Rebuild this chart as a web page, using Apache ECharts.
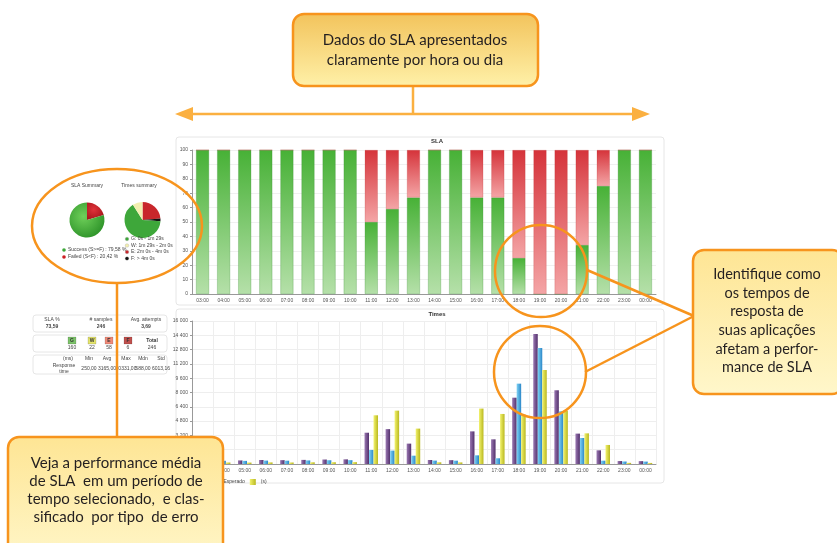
<!DOCTYPE html>
<html>
<head>
<meta charset="utf-8">
<title>SLA</title>
<script src="https://cdn.jsdelivr.net/npm/echarts@6/dist/echarts.min.js"></script>
<style>
  html, body { margin: 0; padding: 0; background: #fff; }
  #chart { width: 837px; height: 543px; }
</style>
</head>
<body>
<div id="chart"></div>
<script>
// data
const hours = ['03:00', '04:00', '05:00', '06:00', '07:00', '08:00', '09:00', '10:00', '11:00', '12:00', '13:00',
  '14:00', '15:00', '16:00', '17:00', '18:00', '19:00', '20:00', '21:00', '22:00', '23:00', '00:00'];
const slaOk = [100, 100, 100, 100, 100, 100, 100, 100, 50, 59, 67, 100, 100, 67, 67, 25, 0, 0, 34, 75, 100, 100];
const slaFail = [0, 0, 0, 0, 0, 0, 0, 0, 50, 41, 33, 0, 0, 33, 33, 75, 100, 100, 66, 25, 0, 0];

const timesNames = ['Mínimo', 'Esperado', '(s)'];
const timesPurple = [380, 420, 400, 450, 430, 460, 500, 520, 3500, 3900, 2280, 450, 430, 3650, 2760, 7420, 14550, 8250, 3400, 1530, 330, 320];
const timesBlue = [330, 360, 350, 380, 370, 400, 420, 430, 1570, 1500, 930, 380, 370, 970, 640, 8990, 12980, 5900, 2910, 370, 280, 270];
const timesYellow = [150, 170, 160, 180, 170, 190, 200, 210, 5450, 5970, 3960, 190, 180, 6200, 5600, 5520, 10520, 5970, 3430, 2130, 130, 120];

const slaSummaryNames = ['Failed (S<F) : 20,42 %', 'Success (S>=F) : 79,58 %'];
const slaSummaryValues = [20.42, 79.58];
const timesSummaryNames = ['E: 2m 0s - 4m 0s', 'F: > 4m 0s', 'G: 0s - 1m 29s', 'W: 1m 29s - 2m 0s'];
const timesSummaryValues = [58, 6, 160, 22];

const statsHeader = ['SLA %', '# samples', 'Avg. attempts'];
const statsValues = ['73,59', '246', '3,69'];
const classLabels = ['G', 'W', 'E', 'F', 'Total'];
const classCounts = ['160', '22', '58', '6', '246'];
const respHeader = ['(ms)', 'Min', 'Avg', 'Max', 'Mdn', 'Std'];
const respValues = ['Response\ntime', '250,00', '3165,00', '30331,00', '588,00', '6013,16'];

const orange = '#f7941d';
const orangeLight = '#fbb040';
const small = 'Liberation Sans';
const grad = (c1, c2, horiz) => new echarts.graphic.LinearGradient(0, 0, horiz ? 1 : 0, horiz ? 0 : 1,
  [{ offset: 0, color: c1 }, { offset: 1, color: c2 }]);
const radial = (c1, c2) => new echarts.graphic.RadialGradient(0.4, 0.4, 0.75,
  [{ offset: 0, color: c1 }, { offset: 1, color: c2 }]);

const slaColors = ['#cc1f24', '#3ea73a'];
const timesPieColors = ['#c8262b', '#111111', '#3ea73a', '#f3efb0'];
const classColors = ['#7cc36a', '#e4e46c', '#f08a78', '#c0504d'];

function box(x, y, w, h, c1, c2) {
  return { type: 'rect', z: 100, shape: { x, y, width: w, height: h, r: 11 },
    style: { fill: grad(c1, c2), stroke: orange, lineWidth: 2.5 } };
}
function label(x, y, text, size, lh) {
  return { type: 'text', z: 101, x, y,
    style: { text, fill: '#231f20', font: size + 'px Lato', textAlign: 'center', textVerticalAlign: 'middle', lineHeight: lh } };
}
function tiny(x, y, text, opts) {
  return Object.assign({ type: 'text', z: 20, x, y,
    style: Object.assign({ text, fill: '#444', font: '5px "' + small + '"', textAlign: 'center', textVerticalAlign: 'middle', lineHeight: 6 }, opts || {}) });
}
function line(x1, y1, x2, y2, color) {
  return { type: 'line', z: 100, shape: { x1, y1, x2, y2 }, style: { stroke: color || orange, lineWidth: 2.5 } };
}
function ring(cx, cy, rx, ry) {
  return { type: 'ellipse', z: 100, shape: { cx, cy, rx, ry }, style: { fill: 'none', stroke: orange, lineWidth: 2.5 } };
}
function panel(x, y, w, h) {
  return { type: 'rect', z: 0, shape: { x, y, width: w, height: h, r: 3 }, style: { fill: 'none', stroke: '#e6e6e6', lineWidth: 1 } };
}

const elements = [
  panel(176, 137, 488, 168), panel(176, 309, 488, 174),
  panel(33, 315, 134, 17), panel(33, 335, 134, 17), panel(33, 355, 134, 19),
  tiny(437, 141, 'SLA', { font: 'bold 6px "' + small + '"', fill: '#333' }),
  tiny(437, 314, 'Times', { font: 'bold 6px "' + small + '"', fill: '#333' }),
  tiny(87, 186, 'SLA Summary'), tiny(139, 186, 'Times summary')
];

// pie legends
slaSummaryNames.forEach((n, i) => {
  const y = 250 + i * 7;
  elements.push({ type: 'circle', z: 20, shape: { cx: 64, cy: y, r: 1.8 }, style: { fill: slaColors[1 - i] } });
  elements.push(tiny(68, y, slaSummaryNames[1 - i], { textAlign: 'left' }));
});
[2, 3, 0, 1].forEach((k, i) => {
  const y = 239 + i * 6.5;
  elements.push({ type: 'circle', z: 20, shape: { cx: 127, cy: y, r: 1.8 }, style: { fill: timesPieColors[k], stroke: '#999', lineWidth: 0.3 } });
  elements.push(tiny(131, y, timesSummaryNames[k], { textAlign: 'left' }));
});

// stats table
const hx = [52, 101, 146];
statsHeader.forEach((t, i) => {
  elements.push(tiny(hx[i], 320, t));
  elements.push(tiny(hx[i], 327, statsValues[i], { font: 'bold 5px "' + small + '"' }));
});
const cx = [72, 92, 109, 128, 152];
classLabels.forEach((t, i) => {
  if (i < 4) {
    elements.push({ type: 'rect', z: 20, shape: { x: cx[i] - 4, y: 337, width: 8, height: 7 },
      style: { fill: classColors[i], stroke: 'rgba(0,0,0,0.25)', lineWidth: 0.5 } });
  }
  elements.push(tiny(cx[i], 340.5, t, { font: 'bold 5px "' + small + '"', fill: '#333' }));
  elements.push(tiny(cx[i], 348, classCounts[i]));
});
const rx = [68, 89, 107, 126, 143, 161];
respHeader.forEach((t, i) => {
  elements.push(tiny(rx[i], 359, t));
  elements.push(tiny(rx[i] - (i === 0 ? 4 : 0), 369, respValues[i]));
});

// callouts and connectors
elements.push(
  line(413, 86, 413, 114, orangeLight),
  line(188, 114, 636, 114, orangeLight),
  { type: 'polygon', z: 100, shape: { points: [[175, 114], [193, 107], [193, 121]] }, style: { fill: orangeLight } },
  { type: 'polygon', z: 100, shape: { points: [[650, 114], [632, 107], [632, 121]] }, style: { fill: orangeLight } },
  box(293, 14, 245, 72, '#f2c35b', '#fff1a9'),
  label(415, 50, 'Dados do SLA apresentados\nclaramente por hora ou dia', 15, 20),
  ring(117, 226, 85, 57),
  line(117, 283, 117, 437),
  ring(541, 271, 46, 46),
  ring(540, 372, 46, 46),
  line(587, 270, 694, 316),
  line(585, 372, 694, 316),
  box(693, 250, 150, 144, '#fee594', '#fff7cb'),
  label(767, 321, 'Identifique como\nos tempos de\nresposta de\nsuas aplicações\nafetam a perfor-\nmance de SLA', 14.5, 18.6),
  box(8, 437, 215, 130, '#fee594', '#fff7cb'),
  label(116, 490, 'Veja a performance média\nde SLA  em um período de\ntempo selecionado,  e clas-\nsificado  por tipo  de erro', 15, 18)
);

const axisLabel = { fontSize: 5, color: '#555', fontFamily: small };
const chart = echarts.init(document.getElementById('chart'));
chart.setOption({
  animation: false,
  backgroundColor: '#fff',
  legend: {
    data: timesNames, left: 175, top: 474, itemWidth: 6, itemHeight: 6, itemGap: 5,
    textStyle: { fontSize: 5, color: '#444', fontFamily: small }, icon: 'rect'
  },
  grid: [
    { left: 192, right: 181, top: 150, bottom: 249 },
    { left: 192, right: 181, top: 321, bottom: 79 }
  ],
  xAxis: [
    { type: 'category', data: hours, gridIndex: 0, axisTick: { show: false },
      axisLine: { lineStyle: { color: '#999' } }, axisLabel: Object.assign({ margin: 4 }, axisLabel) },
    { type: 'category', data: hours, gridIndex: 1, axisTick: { show: false },
      axisLine: { lineStyle: { color: '#999' } }, axisLabel: Object.assign({ margin: 4 }, axisLabel),
      splitLine: { show: true, lineStyle: { color: '#eeeeee' } } }
  ],
  yAxis: [
    { type: 'value', gridIndex: 0, min: 0, max: 100, interval: 10,
      axisLine: { show: true, lineStyle: { color: '#999' } }, axisTick: { show: true, length: 2 },
      axisLabel: Object.assign({ margin: 4 }, axisLabel), splitLine: { lineStyle: { color: '#f0f0f0' } } },
    { type: 'value', gridIndex: 1, min: 0, max: 16000, interval: 1600,
      axisLine: { show: true, lineStyle: { color: '#999' } }, axisTick: { show: true, length: 2 },
      axisLabel: Object.assign({ margin: 4, formatter: v => v >= 1000 ? Math.floor(v / 1000) + ' ' + String(v % 1000).padStart(3, '0') : v }, axisLabel),
      splitLine: { lineStyle: { color: '#eeeeee' } } }
  ],
  series: [
    { type: 'bar', name: 'ok', stack: 'sla', xAxisIndex: 0, yAxisIndex: 0, data: slaOk, barWidth: 13,
      itemStyle: { color: grad('#47b136', '#b5e0a9'), borderColor: 'rgba(40,130,30,0.5)', borderWidth: 0.5 } },
    { type: 'bar', name: 'fail', stack: 'sla', xAxisIndex: 0, yAxisIndex: 0, data: slaFail, barWidth: 13,
      itemStyle: { color: grad('#d5333a', '#f4a5a6'), borderColor: 'rgba(180,30,30,0.4)', borderWidth: 0.5 } },
    { type: 'bar', name: timesNames[0], xAxisIndex: 1, yAxisIndex: 1, data: timesPurple, barWidth: 4.5, barGap: '0%',
      itemStyle: { color: grad('#9a78b2', '#52306b', true) } },
    { type: 'bar', name: timesNames[1], xAxisIndex: 1, yAxisIndex: 1, data: timesBlue, barWidth: 4.5, barGap: '0%',
      itemStyle: { color: grad('#7fd3f5', '#2a86c8', true) } },
    { type: 'bar', name: timesNames[2], xAxisIndex: 1, yAxisIndex: 1, data: timesYellow, barWidth: 4.5, barGap: '0%',
      itemStyle: { color: grad('#f3f36e', '#b9b81f', true) } },
    { type: 'pie', center: [87, 220], radius: 17.5, startAngle: 90, label: { show: false }, silent: true,
      data: slaSummaryNames.map((n, i) => ({ name: n, value: slaSummaryValues[i],
        itemStyle: { color: radial(i ? '#6fd05a' : '#e0333a', i ? '#248a22' : '#9e1217') } })) },
    { type: 'pie', center: [142.5, 220], radius: 18, startAngle: 90, label: { show: false }, silent: true,
      data: timesSummaryNames.map((n, i) => ({ name: n, value: timesSummaryValues[i],
        itemStyle: { color: timesPieColors[i] } })) }
  ],
  graphic: { elements }
});
</script>
</body>
</html>
